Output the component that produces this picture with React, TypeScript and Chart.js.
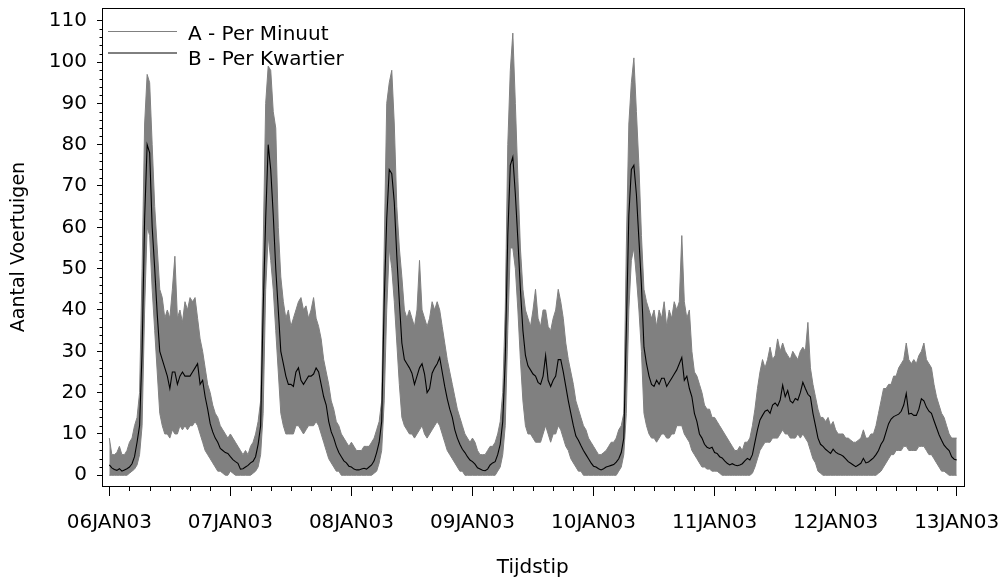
import React, { useEffect, useRef } from 'react';
import { Chart, registerables } from 'chart.js';

Chart.register(...registerables);

// ---- Data (half-hourly readings, starting 06JAN03 00:00) ----
const STEP_HOURS = 0.5;
const dayLabels = ['06JAN03', '07JAN03', '08JAN03', '09JAN03', '10JAN03', '11JAN03', '12JAN03', '13JAN03'];

// B - Per Kwartier (black line)
const kwartier06 = [2.5, 1.8, 1.4, 1.2, 1.6, 1.0, 1.3, 1.6, 2.0, 2.8, 4.5, 8, 12, 30, 62, 80, 78, 60, 50, 39, 30, 28, 26, 24, 21, 25, 25, 22, 24, 25, 24, 24, 24, 25, 26, 27, 22, 23, 19, 16, 12.5, 10.5, 9, 8, 6.5, 6, 5.5, 5.3];
const kwartier07 = [4.5, 3.8, 3.3, 2.9, 1.5, 1.6, 2.0, 2.4, 3.0, 3.4, 4.5, 7.5, 12, 40, 62, 80, 74, 63, 50, 40, 30, 27, 24, 22, 22, 21.5, 25, 26, 23, 22, 23, 24, 24, 24.5, 26, 25, 22, 19, 17, 13, 10.5, 9, 7, 5.5, 4.5, 3.5, 3, 2.2];
const kwartier08 = [2, 1.5, 1.3, 1.3, 1.5, 1.7, 1.5, 2, 2.5, 3.5, 5.5, 8, 13, 42, 62, 74, 73, 66, 53, 42, 32, 28, 27, 26, 24.7, 22, 24, 26, 27, 24.5, 20, 21, 24.7, 26, 27, 28.5, 25, 21.5, 18.5, 16, 14, 11, 9, 7.5, 6.3, 5.5, 4.5, 3.7];
const kwartier09 = [3.3, 2.7, 1.8, 1.5, 1.2, 1.1, 1.5, 2.5, 3, 3.3, 5, 7.5, 13, 28, 58, 75, 77, 68, 57, 45, 35, 29, 26.5, 25.5, 24.5, 24, 22.5, 22, 24, 29, 23, 21.5, 23, 24, 28, 28, 25, 21.5, 18, 15, 12, 9.5, 8.5, 7.2, 6, 5, 4, 3];
const kwartier10 = [2.2, 2, 1.6, 1.3, 1.6, 2, 2.2, 2.4, 2.6, 3.2, 4, 5.5, 9, 35, 63, 74, 75, 68, 57, 46, 31, 27, 24, 22, 21.5, 23, 22, 23.5, 23.5, 21.5, 22.5, 23.5, 24.5, 25.5, 27, 28.5, 23, 24, 21, 19, 15, 13, 10, 9, 7.5, 6.8, 6.5, 6.8];
const kwartier11 = [5.5, 5.3, 4.5, 4.2, 3.5, 2.9, 2.5, 2.8, 2.5, 2.3, 2.5, 2.8, 3.5, 4.1, 3.7, 5, 8, 11, 13.4, 14.5, 15.5, 15.8, 15, 17, 17.5, 16.8, 18.2, 21.8, 19, 20.5, 18, 17.5, 18.6, 18.2, 20, 22.5, 21, 19.6, 19, 15, 12, 9, 7.5, 7, 6.3, 5.8, 5.3, 6.3];
const kwartier12 = [5.6, 5.2, 5, 4.6, 4, 3.3, 2.9, 2.5, 2.1, 2.5, 2.9, 4.1, 3, 3.2, 3.7, 4.2, 5, 6, 7.5, 8.5, 10.5, 12.5, 13.6, 14.2, 14.5, 14.8, 15.5, 17, 19.8, 14.8, 15, 14.5, 14.5, 16, 18.5, 18, 16.5, 15.5, 15, 13.2, 11.5, 9.8, 8.5, 7.3, 6.6, 6, 4.5, 3.9];
const kwartier13 = [3.7];

// A - Per Minuut: upper edge of the per-minute trace
const minuutMax06 = [9, 5, 5, 5.5, 7, 5, 5, 6, 8, 9, 12, 14, 20, 50, 85, 97, 95, 80, 65, 55, 45, 43, 38, 40, 38, 45, 53, 38, 40, 37, 42, 40, 43, 42, 43, 38, 33, 30, 26, 22, 20, 17, 15, 14, 12, 11, 10, 9];
const minuutMax07 = [10, 9, 8, 7, 6, 5, 6, 5, 7, 8, 10, 13, 18, 55, 90, 99, 98, 88, 84, 60, 48, 42, 38, 40, 36, 38, 40, 42, 43, 40, 41, 38, 40, 43, 38, 36, 33, 28, 25, 22, 18, 16, 13, 12, 10, 9, 8, 7];
const minuutMax08 = [8, 7, 6, 6, 6, 7, 7, 7, 8, 9, 11, 13, 18, 55, 90, 95, 98, 85, 65, 55, 48, 40, 38, 40, 38, 36, 40, 52, 40, 38, 36, 38, 42, 40, 42, 40, 36, 32, 28, 25, 22, 19, 16, 14, 12, 10, 9, 8];
const minuutMax09 = [9, 8, 6, 5, 5, 5, 6, 7, 7, 8, 10, 13, 20, 40, 80, 98, 107, 90, 72, 55, 45, 40, 38, 36, 40, 45, 38, 36, 40, 40, 36, 35, 38, 40, 45, 42, 38, 32, 28, 25, 22, 18, 16, 14, 12, 11, 9, 8];
const minuutMax10 = [7, 6, 5, 5, 5.5, 6, 7, 8, 8, 9, 11, 12, 15, 55, 85, 95, 101, 88, 75, 58, 45, 42, 40, 38, 40, 36, 40, 38, 42, 36, 40, 38, 42, 40, 42, 58, 42, 38, 40, 30, 25, 24, 22, 20, 17, 16, 16, 14];
const minuutMax11 = [14, 13, 12, 11, 10, 9, 8, 7, 6, 6, 7, 6, 8, 8, 9, 12, 16, 21, 25, 28, 26, 28, 31, 28, 29, 33, 30, 32, 30, 29, 28, 30, 29, 28, 30, 31, 30, 37, 26, 22, 19, 16, 14, 14, 13, 14, 12, 13];
const minuutMax12 = [11, 10, 10, 10, 9, 9, 8.5, 8, 8, 8.5, 9, 11, 9, 9, 10, 10, 12, 15, 18, 21, 21, 22, 22, 24, 24, 26, 27, 28, 32, 28, 27, 28, 27, 29, 30, 32, 28, 27, 26, 22, 19, 17, 15, 14, 12, 10, 9, 9];
const minuutMax13 = [9];

// A - Per Minuut: lower edge of the per-minute trace
const minuutMin06 = [0, 0, 0, 0, 0, 0, 0, 0, 0.5, 1, 1.5, 2.5, 5, 12, 40, 60, 58, 45, 35, 25, 15, 12, 10, 10, 9, 11, 10, 10, 12, 11, 12, 11, 12, 12, 13, 12, 10, 8, 6, 5, 4, 3, 2, 1, 1, 0.5, 0, 0];
const minuutMin07 = [1, 0.5, 0, 0, 0, 0, 0, 0, 0, 0.5, 1, 2, 5, 15, 45, 58, 52, 45, 35, 25, 15, 12, 10, 10, 10, 10, 12, 12, 11, 10, 11, 12, 12, 12, 13, 12, 10, 8, 6, 4, 3, 2, 1, 1, 0, 0, 0, 0];
const minuutMin08 = [0, 0, 0, 0, 0, 0, 0, 0, 0, 0.5, 1, 3, 6, 18, 40, 55, 50, 42, 32, 22, 14, 12, 11, 10, 10, 9, 10, 11, 12, 10, 9, 10, 11, 12, 13, 12, 10, 8, 6, 5, 4, 3, 2, 1, 1, 0, 0, 0];
const minuutMin09 = [0, 0, 0, 0, 0, 0, 0, 0, 0, 0, 1, 2, 5, 12, 35, 55, 55, 50, 40, 28, 18, 12, 10, 10, 9, 8, 8, 8, 10, 12, 10, 8, 10, 10, 12, 11, 9, 7, 6, 4, 3, 2, 1, 1, 0, 0, 0, 0];
const minuutMin10 = [0, 0, 0, 0, 0, 0, 0, 0, 0, 0, 1, 2, 5, 15, 40, 52, 55, 48, 40, 30, 15, 12, 10, 9, 9, 8, 9, 10, 10, 9, 9, 10, 10, 12, 12, 12, 10, 9, 8, 6, 5, 4, 3, 2, 2, 1.5, 1.5, 1];
const minuutMin11 = [1, 1, 0.5, 0, 0, 0, 0, 0, 0, 0, 0, 0, 0, 0, 0, 0.5, 2, 4, 6, 7, 8, 8, 8, 9, 9, 9, 10, 11, 10, 10, 9, 9, 9, 10, 9, 10, 9, 8, 6, 4, 3, 1, 0.5, 0, 0, 0, 0, 0];
const minuutMin12 = [0, 0, 0, 0, 0, 0, 0, 0, 0, 0, 0, 0, 0, 0, 0, 0, 0, 0.5, 1, 2, 3, 4, 5, 5, 6, 6, 6, 7, 7, 6, 6, 6, 6, 7, 7, 7, 6, 5, 5, 4, 3, 2, 1, 1, 0.5, 0, 0, 0];
const minuutMin13 = [0];

const yTickValues = [0, 10, 20, 30, 40, 50, 60, 70, 80, 90, 100, 110];

const kwartier = [...kwartier06, ...kwartier07, ...kwartier08, ...kwartier09, ...kwartier10, ...kwartier11, ...kwartier12, ...kwartier13];
const minuutMax = [...minuutMax06, ...minuutMax07, ...minuutMax08, ...minuutMax09, ...minuutMax10, ...minuutMax11, ...minuutMax12, ...minuutMax13];
const minuutMin = [...minuutMin06, ...minuutMin07, ...minuutMin08, ...minuutMin09, ...minuutMin10, ...minuutMin11, ...minuutMin12, ...minuutMin13];

const toPoints = (vals: number[]) => vals.map((v, i) => ({ x: i * STEP_HOURS, y: v }));

const FONT = 'DejaVu Sans';
const GRAY = 'rgb(128,128,128)';

const zeroPadding = (scale: any) => {
  scale.paddingTop = 0;
  scale.paddingBottom = 0;
  scale.paddingLeft = 0;
  scale.paddingRight = 0;
};

const decorPlugin = {
  id: 'decor',
  afterDraw(chart: any) {
    const { ctx, chartArea: a, scales } = chart;
    const x = scales.x;
    const y = scales.y;
    ctx.save();
    // frame
    ctx.strokeStyle = '#000';
    ctx.lineWidth = 1;
    ctx.strokeRect(Math.round(a.left) + 0.5, Math.round(a.top) + 0.5, Math.round(a.right - a.left), Math.round(a.bottom - a.top));
    // minor ticks
    ctx.beginPath();
    for (let v = 0; v <= 110; v += 2) {
      if (v % 10 === 0) continue;
      const py = Math.round(y.getPixelForValue(v)) + 0.5;
      ctx.moveTo(a.left - 2.5, py);
      ctx.lineTo(a.left, py);
    }
    for (let h = 0; h <= 168; h += 4) {
      if (h % 24 === 0) continue;
      const px = Math.round(x.getPixelForValue(h)) + 0.5;
      ctx.moveTo(px, a.bottom);
      ctx.lineTo(px, a.bottom + 5);
    }
    ctx.stroke();
    // legend (inside plot area, top-left)
    const lx0 = a.left + 6;
    const lx1 = a.left + 75;
    ctx.lineWidth = 1;
    ctx.strokeStyle = GRAY;
    ctx.beginPath();
    ctx.moveTo(lx0, a.top + 23.5);
    ctx.lineTo(lx1, a.top + 23.5);
    ctx.stroke();
    ctx.strokeStyle = '#000';
    ctx.beginPath();
    ctx.moveTo(lx0, a.top + 45);
    ctx.lineTo(lx1, a.top + 45);
    ctx.stroke();
    ctx.fillStyle = '#000';
    ctx.font = `20px "${FONT}"`;
    ctx.textBaseline = 'alphabetic';
    ctx.textAlign = 'left';
    ctx.fillText('A - Per Minuut', a.left + 86, a.top + 31.5);
    ctx.fillText('B - Per Kwartier', a.left + 86, a.top + 57);
    ctx.restore();
  },
};

export default function App() {
  const ref = useRef<HTMLCanvasElement | null>(null);
  useEffect(() => {
    if (!ref.current) return;
    Chart.defaults.font.family = FONT;
    Chart.defaults.color = '#000';
    const chart = new Chart(ref.current, {
      type: 'line',
      data: {
        datasets: [
          {
            label: 'B - Per Kwartier',
            data: toPoints(kwartier),
            borderColor: '#000',
            borderWidth: 1.1,
            pointRadius: 0,
            fill: false,
            tension: 0,
            order: 0,
          },
          {
            label: 'A - Per Minuut',
            data: toPoints(minuutMax),
            borderColor: GRAY,
            backgroundColor: GRAY,
            borderWidth: 1,
            pointRadius: 0,
            fill: '+1',
            tension: 0,
            order: 1,
          },
          {
            label: 'A - Per Minuut (min)',
            data: toPoints(minuutMin),
            borderColor: GRAY,
            backgroundColor: GRAY,
            borderWidth: 1,
            pointRadius: 0,
            fill: false,
            tension: 0,
            order: 2,
          },
        ],
      },
      options: {
        animation: false,
        responsive: false,
        maintainAspectRatio: false,
        events: [],
        layout: { padding: { top: 8, right: 41.5, left: 0, bottom: 0 } },
        plugins: { legend: { display: false }, tooltip: { enabled: false } },
        scales: {
          x: {
            type: 'linear',
            min: -1.45,
            max: 169.35,
            afterBuildTicks: (scale: any) => {
              scale.ticks = dayLabels.map((_, i) => ({ value: i * 24 }));
            },
            afterFit: (scale: any) => {
              scale.height = 97;
              zeroPadding(scale);
            },
            ticks: {
              autoSkip: false,
              maxRotation: 0,
              minRotation: 0,
              padding: 15,
              color: '#000',
              font: { family: FONT, size: 20 },
              callback: (v: any) => dayLabels[Math.round(Number(v) / 24)] ?? '',
            },
            grid: { drawOnChartArea: false, drawTicks: true, tickLength: 10, color: '#000', tickColor: '#000' },
            border: { display: false },
            title: {
              display: true,
              text: 'Tijdstip',
              color: '#000',
              font: { family: FONT, size: 20 },
              padding: { top: 0, bottom: 3 },
            },
          },
          y: {
            type: 'linear',
            min: -2.59,
            max: 113.07,
            afterBuildTicks: (scale: any) => {
              scale.ticks = yTickValues.map((v) => ({ value: v }));
            },
            afterFit: (scale: any) => {
              scale.width = 102;
              zeroPadding(scale);
            },
            ticks: {
              padding: 10,
              color: '#000',
              font: { family: FONT, size: 20 },
            },
            grid: { drawOnChartArea: false, drawTicks: true, tickLength: 5, color: '#000', tickColor: '#000' },
            border: { display: false },
            title: {
              display: true,
              text: 'Aantal Voertuigen',
              color: '#000',
              font: { family: FONT, size: 19 },
              padding: { top: 8, bottom: 0 },
            },
          },
        },
      },
      plugins: [decorPlugin],
    } as any);
    return () => chart.destroy();
  }, []);
  return (
    <div style={{ position: 'absolute', left: 0, top: 0, width: 1005, height: 583, background: '#fff' }}>
      <canvas ref={ref} width={1005} height={583} style={{ display: 'block' }} />
    </div>
  );
}
